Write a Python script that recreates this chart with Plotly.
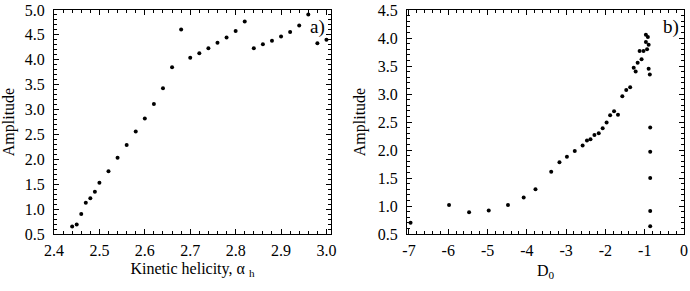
import plotly.graph_objects as go

# Panel a data
helicity = [2.44, 2.45, 2.46, 2.47, 2.48, 2.49, 2.50, 2.52, 2.54, 2.56, 2.58, 2.60,
            2.62, 2.64, 2.66, 2.68, 2.70, 2.72, 2.74, 2.76, 2.78, 2.80, 2.82, 2.84,
            2.86, 2.88, 2.90, 2.92, 2.94, 2.96, 2.98, 3.00]
amp_a = [0.65, 0.69, 0.90, 1.13, 1.22, 1.35, 1.53, 1.76, 2.03, 2.29, 2.56, 2.82,
         3.11, 3.43, 3.85, 4.61, 4.04, 4.13, 4.23, 4.34, 4.45, 4.58, 4.77, 4.23,
         4.31, 4.38, 4.47, 4.56, 4.69, 4.91, 4.33, 4.40]

# Panel b data
d0 = [-6.96, -5.98, -5.47, -4.97, -4.48, -4.08, -3.78, -3.38, -3.17, -2.98, -2.78,
      -2.58, -2.47, -2.38, -2.28, -2.17, -2.07, -1.97, -1.88, -1.78, -1.68, -1.57,
      -1.47, -1.37, -1.28, -1.23, -1.18, -1.13, -1.08, -1.03, -0.97, -0.97, -0.92,
      -0.94, -0.90, -0.90, -0.87, -0.86, -0.86, -0.86, -0.86, -0.86]
amp_b = [0.70, 1.02, 0.89, 0.92, 1.02, 1.15, 1.30, 1.61, 1.78, 1.88, 1.98,
         2.08, 2.17, 2.19, 2.27, 2.30, 2.39, 2.49, 2.62, 2.69, 2.63, 2.96,
         3.07, 3.12, 3.47, 3.40, 3.56, 3.77, 3.62, 3.77, 3.93, 4.06, 4.02,
         3.80, 3.88, 3.45, 3.35, 2.40, 1.97, 1.50, 0.91, 0.64]

# Tick labels
xa_ticks = [2.4, 2.5, 2.6, 2.7, 2.8, 2.9, 3.0]
xa_text = ["2.4", "2.5", "2.6", "2.7", "2.8", "2.9", "3.0"]
ya_ticks = [0.5, 1.0, 1.5, 2.0, 2.5, 3.0, 3.5, 4.0, 4.5, 5.0]
ya_text = ["0.5", "1.0", "1.5", "2.0", "2.5", "3.0", "3.5", "4.0", "4.5", "5.0"]
xb_ticks = [-7, -6, -5, -4, -3, -2, -1, 0]
xb_text = ["-7", "-6", "-5", "-4", "-3", "-2", "-1", "0"]
yb_ticks = [0.5, 1.0, 1.5, 2.0, 2.5, 3.0, 3.5, 4.0, 4.5]
yb_text = ["0.5", "1.0", "1.5", "2.0", "2.5", "3.0", "3.5", "4.0", "4.5"]

W, H = 690, 291
FONT = "Liberation Serif"

fig = go.Figure()
fig.add_trace(go.Scatter(x=helicity, y=amp_a, mode="markers",
                         marker=dict(color="black", size=4), xaxis="x", yaxis="y",
                         showlegend=False))
fig.add_trace(go.Scatter(x=d0, y=amp_b, mode="markers",
                         marker=dict(color="black", size=4), xaxis="x2", yaxis="y2",
                         showlegend=False))

common = dict(showgrid=False, zeroline=False, showline=True, linecolor="black",
              linewidth=1, mirror="allticks", ticks="inside", ticklen=5,
              tickcolor="black", tickwidth=1, ticklabeloverflow="allow",
              automargin=False,
              tickfont=dict(family=FONT, size=16, color="black"))

fig.update_layout(
    width=W, height=H,
    margin=dict(l=0, r=0, t=10, b=57, autoexpand=False),
    paper_bgcolor="white", plot_bgcolor="white",
    font=dict(family=FONT, color="black"),
    xaxis=dict(domain=[54 / W, 331 / W], range=[2.4, 3.01], anchor="y",
               tickvals=xa_ticks, ticktext=xa_text, ticklabelstandoff=2,
               minor=dict(dtick=0.02, tick0=2.4, ticks="inside", ticklen=3,
                          tickcolor="black", showgrid=False),
               title=dict(text="Kinetic helicity, α <sub>h</sub>",
                          font=dict(family=FONT, size=16, color="black"), standoff=4),
               **common),
    yaxis=dict(domain=[0, 1], range=[0.5, 5.0], anchor="x",
               tickvals=ya_ticks, ticktext=ya_text, ticklabelstandoff=5,
               minor=dict(dtick=0.1, tick0=0.5, ticks="inside", ticklen=3,
                          tickcolor="black", showgrid=False),
               title=dict(text="Amplitude",
                          font=dict(family=FONT, size=16, color="black"), standoff=8),
               **common),
    xaxis2=dict(domain=[407 / W, 684 / W], range=[-7.05, 0], anchor="y2",
                tickvals=xb_ticks, ticktext=xb_text, ticklabelstandoff=2,
                minor=dict(dtick=0.2, tick0=-7, ticks="inside", ticklen=3,
                           tickcolor="black", showgrid=False),
                title=dict(text="D<sub>0</sub>",
                           font=dict(family=FONT, size=16, color="black"), standoff=6),
                **common),
    yaxis2=dict(domain=[0, 1], range=[0.5, 4.5], anchor="x2",
                tickvals=yb_ticks, ticktext=yb_text, ticklabelstandoff=5,
                minor=dict(dtick=0.1, tick0=0.5, ticks="inside", ticklen=3,
                           tickcolor="black", showgrid=False),
                title=dict(text="Amplitude",
                           font=dict(family=FONT, size=16, color="black"), standoff=8),
                **common),
    annotations=[
        dict(text="a)", xref="paper", yref="paper", x=317 / W, y=1 - (27 - 10) / 224,
             showarrow=False, font=dict(family=FONT, size=19, color="black"),
             xanchor="center", yanchor="middle"),
        dict(text="b)", xref="paper", yref="paper", x=671 / W, y=1 - (27 - 10) / 224,
             showarrow=False, font=dict(family=FONT, size=19, color="black"),
             xanchor="center", yanchor="middle"),
    ],
)

fig.write_html("out.html",
               config={"displayModeBar": False, "staticPlot": True},
               post_script="document.body.style.margin='0';document.body.style.overflow='hidden';")
